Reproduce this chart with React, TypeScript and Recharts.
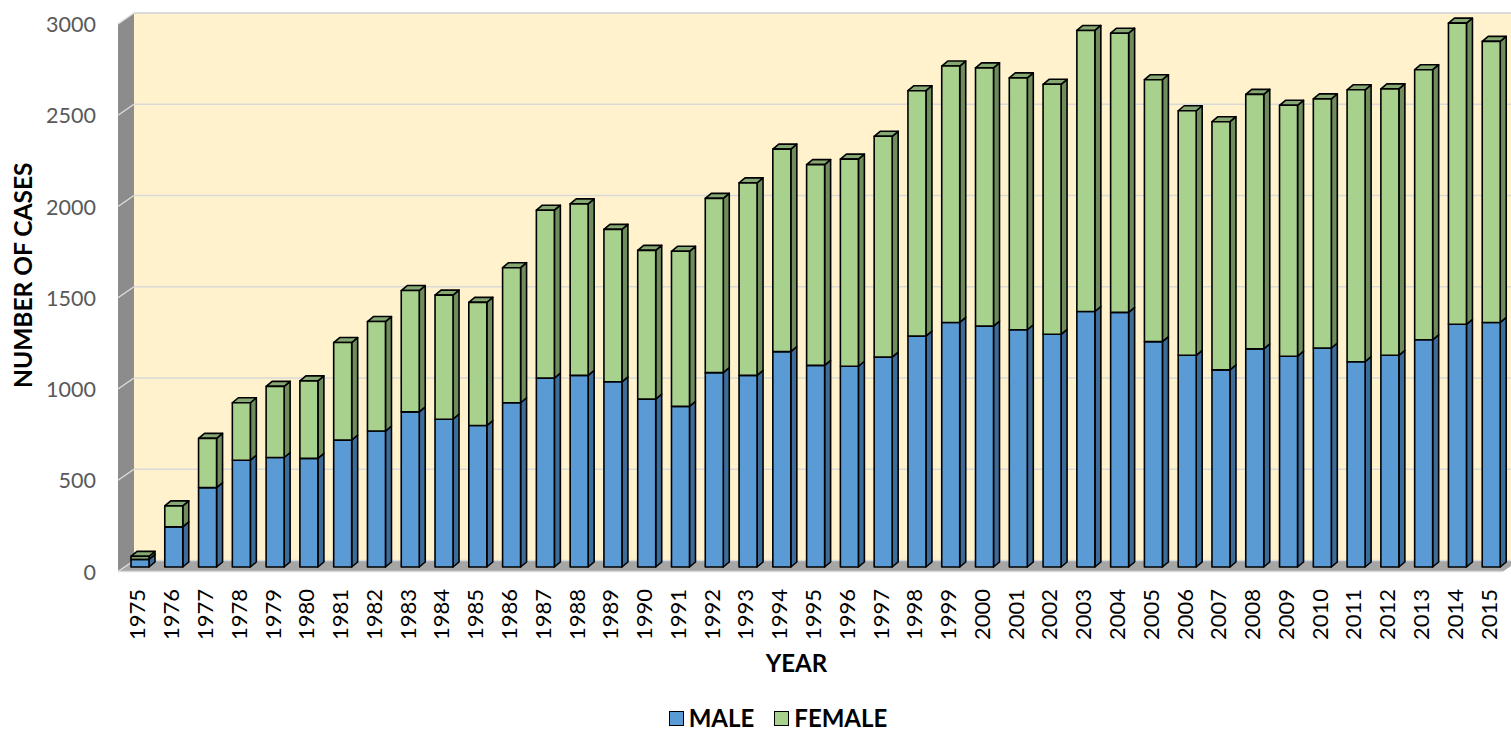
import { BarChart, Bar, XAxis, YAxis, CartesianGrid, Legend, ReferenceArea } from 'recharts'

const years = [
  '1975', '1976', '1977', '1978', '1979', '1980', '1981', '1982', '1983', '1984',
  '1985', '1986', '1987', '1988', '1989', '1990', '1991', '1992', '1993', '1994',
  '1995', '1996', '1997', '1998', '1999', '2000', '2001', '2002', '2003', '2004',
  '2005', '2006', '2007', '2008', '2009', '2010', '2011', '2012', '2013', '2014', '2015',
]
const male = [
  42, 220, 435, 585, 600, 595, 695, 745, 850, 810,
  775, 900, 1035, 1050, 1015, 920, 880, 1065, 1050, 1180,
  1105, 1100, 1150, 1265, 1340, 1320, 1300, 1275, 1400, 1395,
  1235, 1160, 1080, 1195, 1155, 1200, 1125, 1160, 1245, 1330, 1340,
]
const female = [
  16, 115, 270, 315, 390, 425, 535, 600, 665, 680,
  675, 740, 920, 940, 835, 815, 850, 955, 1055, 1110,
  1100, 1135, 1210, 1345, 1405, 1415, 1380, 1370, 1540, 1530,
  1435, 1340, 1360, 1395, 1375, 1365, 1490, 1460, 1480, 1650, 1540,
]
const yTicks = [0, 500, 1000, 1500, 2000, 2500, 3000]
const seriesNames = ['MALE', 'FEMALE']

const data = years.map((year, i) => ({ year, male: male[i], female: female[i] }))

// offsets of the front edge and the back wall, relative to the bar front plane
const FRONT_DX = -8
const FRONT_DY = 4.5
const BACK_DX = 8
const BACK_DY = -6.5
// depth of each column
const BOX_DX = 6
const BOX_DY = 5

const FONT = 'Lato, "Open Sans", sans-serif'

function Walls(props: any) {
  const { x, y, width, height } = props
  const xr = x + width
  const yb = y + height
  return (
    <g>
      <rect x={x + BACK_DX} y={y + BACK_DY} width={width} height={height} fill="#FFF2CC" />
      <line x1={x + BACK_DX} y1={y + BACK_DY} x2={xr + BACK_DX} y2={y + BACK_DY} stroke="#d9d9d9" strokeWidth={1.5} />
      <polygon
        points={`${x + FRONT_DX},${y + FRONT_DY} ${x + BACK_DX},${y + BACK_DY} ${x + BACK_DX},${yb + BACK_DY} ${x + FRONT_DX},${yb + FRONT_DY}`}
        fill="#8c8c8c"
      />
      <polygon
        points={`${x + FRONT_DX},${yb + FRONT_DY} ${x + BACK_DX},${yb + BACK_DY} ${xr + BACK_DX},${yb + BACK_DY} ${xr + FRONT_DX},${yb + FRONT_DY}`}
        fill="#a6a6a6"
      />
      <line x1={x + FRONT_DX} y1={yb + FRONT_DY} x2={xr + FRONT_DX} y2={yb + FRONT_DY} stroke="#d9d9d9" strokeWidth={1.5} />
    </g>
  )
}

function GridLine(props: any) {
  const { x1, x2, y1, index } = props
  return (
    <g key={`grid-${index}`}>
      <line x1={x1 + FRONT_DX} y1={y1 + FRONT_DY} x2={x1 + BACK_DX} y2={y1 + BACK_DY} stroke="#dcdcdc" strokeWidth={1.5} />
      <line x1={x1 + BACK_DX} y1={y1 + BACK_DY} x2={x2 + BACK_DX} y2={y1 + BACK_DY} stroke="#d9d9d9" strokeWidth={1.5} />
    </g>
  )
}

function makeBox(front: string, side: string, top: string | null) {
  return (props: any) => {
    const { x, y, width, height } = props
    if (height == null || height <= 0) return <g />
    const fw = width - BOX_DX
    const xr = x + width
    const yb = y + height
    return (
      <g stroke="#000" strokeWidth={1.6} strokeLinejoin="round">
        <polygon points={`${x + fw},${y} ${xr},${y - BOX_DY} ${xr},${yb - BOX_DY} ${x + fw},${yb}`} fill={side} />
        {top && (
          <polygon points={`${x},${y} ${x + BOX_DX},${y - BOX_DY} ${xr},${y - BOX_DY} ${x + fw},${y}`} fill={top} />
        )}
        <rect x={x} y={y} width={fw} height={height} fill={front} />
      </g>
    )
  }
}

const MaleBox = makeBox('#5B9BD5', '#3E6C98', null)
const FemaleBox = makeBox('#A9D18E', '#6E8C5C', '#86A872')

function XTick(props: any) {
  const { x, y, payload } = props
  return (
    <g transform={`translate(${x + FRONT_DX + 2},${y + 22})`}>
      <text transform="rotate(-90)" textAnchor="end" dominantBaseline="central" fontSize={22} fill="#000" fontFamily={FONT}>
        {payload.value}
      </text>
    </g>
  )
}

function YTick(props: any) {
  const { x, y, payload } = props
  return (
    <text x={x} y={y + FRONT_DY} textAnchor="end" dominantBaseline="central" fontSize={21.5} fill="#595959" fontFamily={FONT}>
      {payload.value}
    </text>
  )
}

function LegendContent(props: any) {
  const { payload = [] } = props
  const items = [...payload].sort((a: any, b: any) => seriesNames.indexOf(a.value) - seriesNames.indexOf(b.value))
  return (
    <div
      style={{
        display: 'flex',
        justifyContent: 'center',
        gap: 20,
        fontFamily: FONT,
        fontWeight: 700,
        fontSize: 24,
        lineHeight: '24px',
        height: 24,
      }}
    >
      {items.map((p: any) => (
        <span key={p.value} style={{ display: 'flex', alignItems: 'center' }}>
          <span style={{ width: 13, height: 13, background: p.color, border: '1.5px solid #000', marginRight: 5 }} />
          {p.value}
        </span>
      ))}
    </div>
  )
}

export default function App() {
  return (
    <div style={{ position: 'absolute', left: 0, top: 0, width: 1511, height: 730, background: '#fff', fontFamily: FONT }}>
      <BarChart width={1511} height={730} data={data} margin={{ top: 19.5, right: 0, left: 0, bottom: 0 }} barSize={24}>
        <ReferenceArea x1="1975" x2="2015" y1={0} y2={3000} shape={<Walls />} zIndex={-200} />
        <CartesianGrid vertical={false} horizontal={GridLine} zIndex={-100} />
        <XAxis
          dataKey="year"
          interval={0}
          height={163}
          tickLine={false}
          axisLine={false}
          tickSize={0}
          tickMargin={0}
          tick={<XTick />}
          label={(p: any) => (
            <text
              x={p.viewBox.x + p.viewBox.width / 2 - 22}
              y={p.viewBox.y + 95}
              textAnchor="middle"
              dominantBaseline="central"
              fontSize={24}
              fontWeight={700}
              fill="#000"
              fontFamily={FONT}
            >
              YEAR
            </text>
          )}
        />
        <YAxis
          domain={[0, 3000]}
          ticks={yTicks}
          width={126}
          tickLine={false}
          axisLine={false}
          tickSize={0}
          tickMargin={30}
          tick={<YTick />}
          label={(p: any) => (
            <text
              transform={`translate(${p.viewBox.x + 22},${p.viewBox.y + p.viewBox.height / 2 - 18}) rotate(-90)`}
              textAnchor="middle"
              dominantBaseline="central"
              fontSize={24.5}
              fontWeight={700}
              fill="#000"
              fontFamily={FONT}
            >
              NUMBER OF CASES
            </text>
          )}
        />
        <Legend
          verticalAlign="middle"
          align="center"
          content={<LegendContent />}
          wrapperStyle={{ top: 706, left: 0, width: 1556, height: 24 }}
        />
        <Bar dataKey="male" name="MALE" stackId="a" fill="#5B9BD5" shape={MaleBox} isAnimationActive={false} />
        <Bar dataKey="female" name="FEMALE" stackId="a" fill="#A9D18E" shape={FemaleBox} isAnimationActive={false} />
      </BarChart>
    </div>
  )
}
